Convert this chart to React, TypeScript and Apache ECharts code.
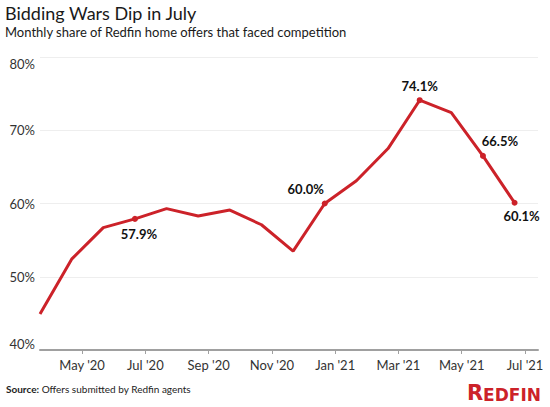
import React, { useEffect, useRef } from "react";
import * as echarts from "echarts";

// ---- data ----
const months = [
  "2020-04", "2020-05", "2020-06", "2020-07", "2020-08", "2020-09", "2020-10", "2020-11",
  "2020-12", "2021-01", "2021-02", "2021-03", "2021-04", "2021-05", "2021-06", "2021-07",
];
const shares = [44.9, 52.4, 56.7, 57.9, 59.3, 58.3, 59.1, 57.1, 53.5, 60.0, 63.1, 67.5, 74.1, 72.4, 66.5, 60.1];
const labeledMonths = ["2020-07", "2021-01", "2021-04", "2021-06", "2021-07"];
const tickMonths = ["2020-05", "2020-07", "2020-09", "2020-11", "2021-01", "2021-03", "2021-05", "2021-07"];
const tickLabels = ["May '20", "Jul '20", "Sep '20", "Nov '20", "Jan '21", "Mar '21", "May '21", "Jul '21"];
const yMin = 40;
const yMax = 80;
const yStep = 10;

const TITLE = "Bidding Wars Dip in July";
const SUBTITLE = "Monthly share of Redfin home offers that faced competition";
const SOURCE = "Offers submitted by Redfin agents";

// ---- style ----
const RED = "#cc2229";
const FONT = "Lato";
const POINT_SHIFT = -0.33; // points sit slightly before the month tick
const RIGHT_PAD = 0.41;

const monthIndex = (m: string) => {
  const [y, mo] = m.split("-").map(Number);
  return (y - 2020) * 12 + (mo - 1);
};

const placements: Record<string, any> = {
  "2020-07": { position: "bottom", distance: 6, offset: [4, 0] },
  "2021-01": { position: "top", distance: 5, offset: [-19, 0] },
  "2021-04": { position: "top", distance: 5, offset: [0, 0] },
  "2021-06": { position: "top", distance: 5, offset: [17, 0] },
  "2021-07": { position: "bottom", distance: 4, offset: [7, 0] },
};

export default function App() {
  const ref = useRef<HTMLDivElement>(null);
  useEffect(() => {
    document.body.style.margin = "0";
    if (!ref.current) return;
    const chart = echarts.init(ref.current, undefined, { renderer: "svg" });
    const tickIdx = tickMonths.map(monthIndex);
    const data = shares.map((v, i) => {
      const m = months[i];
      const lab = labeledMonths.includes(m) ? placements[m] : null;
      return {
        value: [monthIndex(m) + POINT_SHIFT, v],
        symbolSize: lab ? 6 : 0,
        label: lab
          ? {
              show: true,
              ...lab,
              formatter: v.toFixed(1) + "%",
              fontFamily: FONT,
              fontWeight: "bold",
              fontSize: 13,
              color: "#111",
            }
          : { show: false },
      };
    });
    chart.setOption({
      animation: false,
      textStyle: { fontFamily: FONT },
      title: [
        {
          text: TITLE,
          left: 5,
          top: 2,
          padding: 0,
          textStyle: { fontFamily: FONT, fontSize: 18, lineHeight: 21, fontWeight: "normal", color: "#1a1a1a" },
        },
        {
          text: SUBTITLE,
          left: 5,
          top: 24,
          padding: 0,
          textStyle: { fontFamily: FONT, fontSize: 13, lineHeight: 15, fontWeight: "normal", color: "#1a1a1a" },
        },
      ],
      grid: { left: 40, right: 12, top: 57, bottom: 57, containLabel: false },
      xAxis: {
        type: "value",
        min: monthIndex(months[0]) + POINT_SHIFT,
        max: monthIndex(tickMonths[tickMonths.length - 1]) + RIGHT_PAD,
        splitLine: { show: false },
        axisLine: { show: true, lineStyle: { color: "#a0a0a0", width: 2 } },
        axisTick: { show: true, customValues: tickIdx, length: 4, lineStyle: { color: "#a0a0a0", width: 1 } },
        axisLabel: {
          customValues: tickIdx,
          margin: 8,
          fontSize: 13,
          color: "#333",
          fontFamily: FONT,
          formatter: (v: number) => {
            const k = tickIdx.indexOf(Math.round(v));
            return k >= 0 ? tickLabels[k] : "";
          },
        },
      },
      yAxis: {
        type: "value",
        min: yMin,
        max: yMax,
        interval: yStep,
        axisLine: { show: false },
        axisTick: { show: false },
        splitLine: { lineStyle: { color: "#eeeeee", width: 1 } },
        axisLabel: {
          margin: 5,
          formatter: (v: number) => {
            const t = v + "%";
            if (v === yMax) return "{top|" + t + "}";
            if (v === yMin) return "{bot|" + t + "}";
            return "{n|" + t + "}";
          },
          rich: {
            n: { fontSize: 13, color: "#333", fontFamily: FONT },
            top: { fontSize: 13, color: "#333", fontFamily: FONT, padding: [14, 0, 0, 0] },
            bot: { fontSize: 13, color: "#333", fontFamily: FONT, padding: [0, 0, 12, 0] },
          },
        },
      },
      series: [
        {
          type: "line",
          data,
          symbol: "circle",
          showSymbol: true,
          lineStyle: { color: RED, width: 3 },
          itemStyle: { color: RED },
          emphasis: { disabled: true },
          z: 3,
        },
      ],
      graphic: [
        {
          type: "text",
          left: 6,
          top: 384,
          style: {
            text: "{b|Source:} " + SOURCE,
            rich: {
              b: { fontWeight: "bold", fontSize: 10, fontFamily: FONT, fill: "#222" },
            },
            fontSize: 10,
            fontFamily: FONT,
            fill: "#222",
          },
        },
        {
          type: "text",
          right: 9,
          top: 382,
          style: {
            text: "{r|R}{e|EDFIN}",
            rich: {
              r: { fontSize: 21, fontWeight: "bold", fontFamily: "DejaVu Sans", fill: RED, verticalAlign: "bottom" },
              e: { fontSize: 17, fontWeight: "bold", fontFamily: "DejaVu Sans", fill: RED, verticalAlign: "bottom" },
            },
          },
        },
      ],
    });
    return () => chart.dispose();
  }, []);
  return <div ref={ref} style={{ width: 550, height: 407 }} />;
}
